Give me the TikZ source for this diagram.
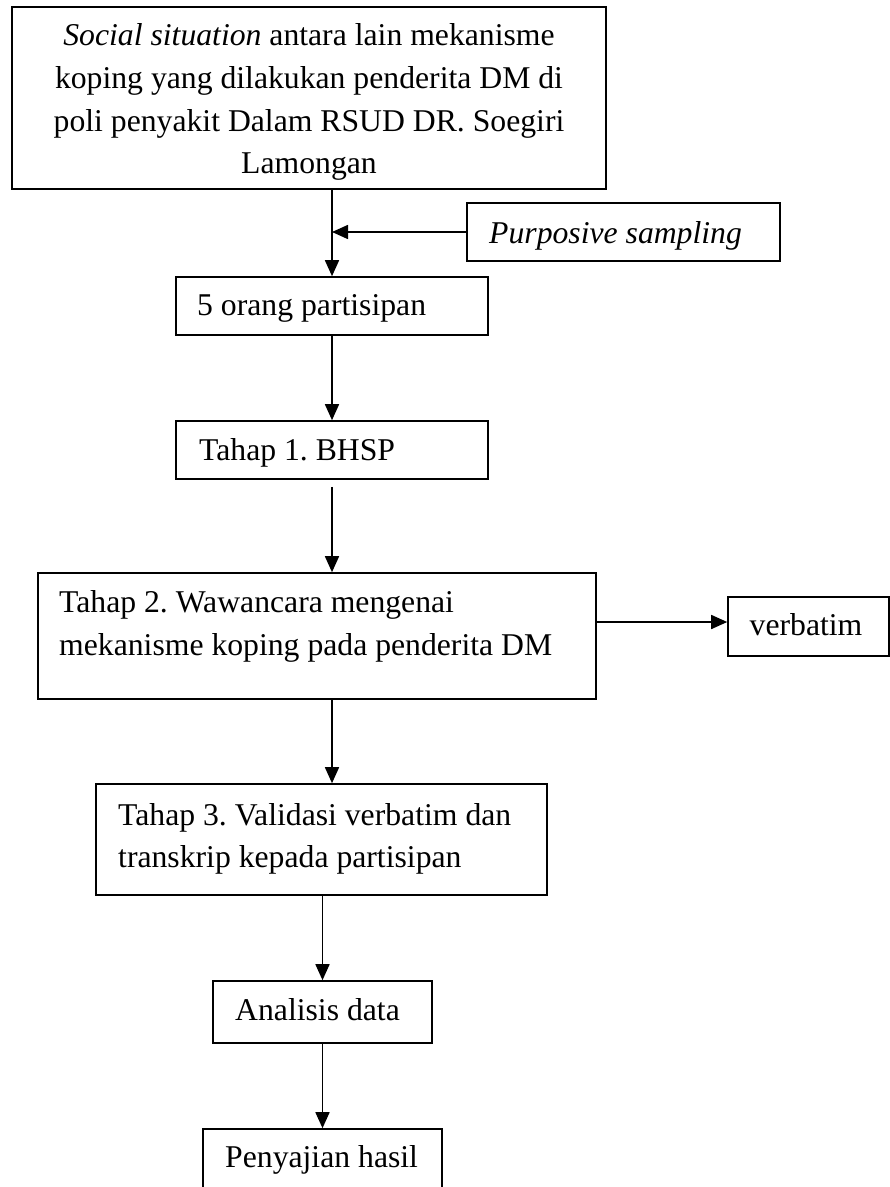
\documentclass[tikz,border=0pt]{standalone}
\usepackage{fontspec}
\setmainfont{Liberation Serif}
\usetikzlibrary{arrows.meta}
\frenchspacing
\begin{document}
\begin{tikzpicture}[x=1pt,y=-1pt,
  box/.style={draw=black, line width=1.6pt, inner sep=0pt, fill=none},
  txt/.style={inner sep=0pt, font=\fontsize{31.7pt}{43pt}\selectfont},
  arr/.style={line width=1.6pt, -{Triangle[length=16pt,width=14pt]}}]
\fill[white] (0,0) rectangle (890,1187);
\clip (0,0) rectangle (890,1187);
\useasboundingbox (0,0) rectangle (890,1187);
% boxes
\node[box, minimum width=594pt, minimum height=182pt] (b1) at (309,98) {};
\node[box, minimum width=313pt, minimum height=58pt] (ps) at (623.5,232) {};
\node[box, minimum width=312pt, minimum height=58pt] (b2) at (332,306) {};
\node[box, minimum width=312pt, minimum height=58pt] (b3) at (332,450) {};
\node[box, minimum width=558pt, minimum height=126pt] (b4) at (317,636) {};
\node[box, minimum width=161pt, minimum height=59pt] (v) at (808.5,626.5) {};
\node[box, minimum width=451pt, minimum height=111pt] (b5) at (321.5,839.5) {};
\node[box, minimum width=219pt, minimum height=62pt] (b6) at (322.5,1012) {};
\node[box, minimum width=239pt, minimum height=82pt] (b7) at (322.5,1170) {};
% texts
\node[txt, anchor=base] (t1a) at (309,45) {\textit{Social situation} antara lain mekanisme};
\node[txt, anchor=base] (t1b) at (309,88) {koping yang dilakukan penderita DM di};
\node[txt, anchor=base] (t1c) at (309,131.5) {poli penyakit Dalam RSUD DR. Soegiri};
\node[txt, anchor=base] (t1d) at (309,173) {Lamongan};
\node[txt, anchor=base west] (tps) at (489,243) {\textit{Purposive sampling}};
\node[txt, anchor=base west] (t2) at (197,315) {5 orang partisipan};
\node[txt, anchor=base west] (t3) at (199,460) {Tahap 1. BHSP};
\node[txt, anchor=base west] (t4a) at (59,612) {Tahap 2. Wawancara mengenai};
\node[txt, anchor=base west] (t4b) at (59,655) {mekanisme koping pada penderita DM};
\node[txt, anchor=base] (tv) at (806,635) {verbatim};
\node[txt, anchor=base west] (t5a) at (118,825) {Tahap 3. Validasi verbatim dan};
\node[txt, anchor=base west] (t5b) at (118,867) {transkrip kepada partisipan};
\node[txt, anchor=base west] (t6) at (235,1020) {Analisis data};
\node[txt, anchor=base west] (t7) at (225,1167) {Penyajian hasil};
% connectors
\draw[arr] (b2.north |- b1.south) -- (b2.north);
\draw[arr] (ps.west) -- (ps.west -| b2.north);
\draw[arr] (b2.south) -- (b3.north);
\draw[arr] ([yshift=-7pt]b3.south) -- (b3.south |- b4.north);
\draw[arr] (b3.south |- b4.south) -- (b3.south |- b5.north);
\draw[arr] (b4.east |- 0,622) -- (v.west |- 0,622);
\draw[arr] (b6.north |- b5.south) -- (b6.north);
\draw[arr] (b6.south) -- (b7.north);
\end{tikzpicture}
\end{document}
